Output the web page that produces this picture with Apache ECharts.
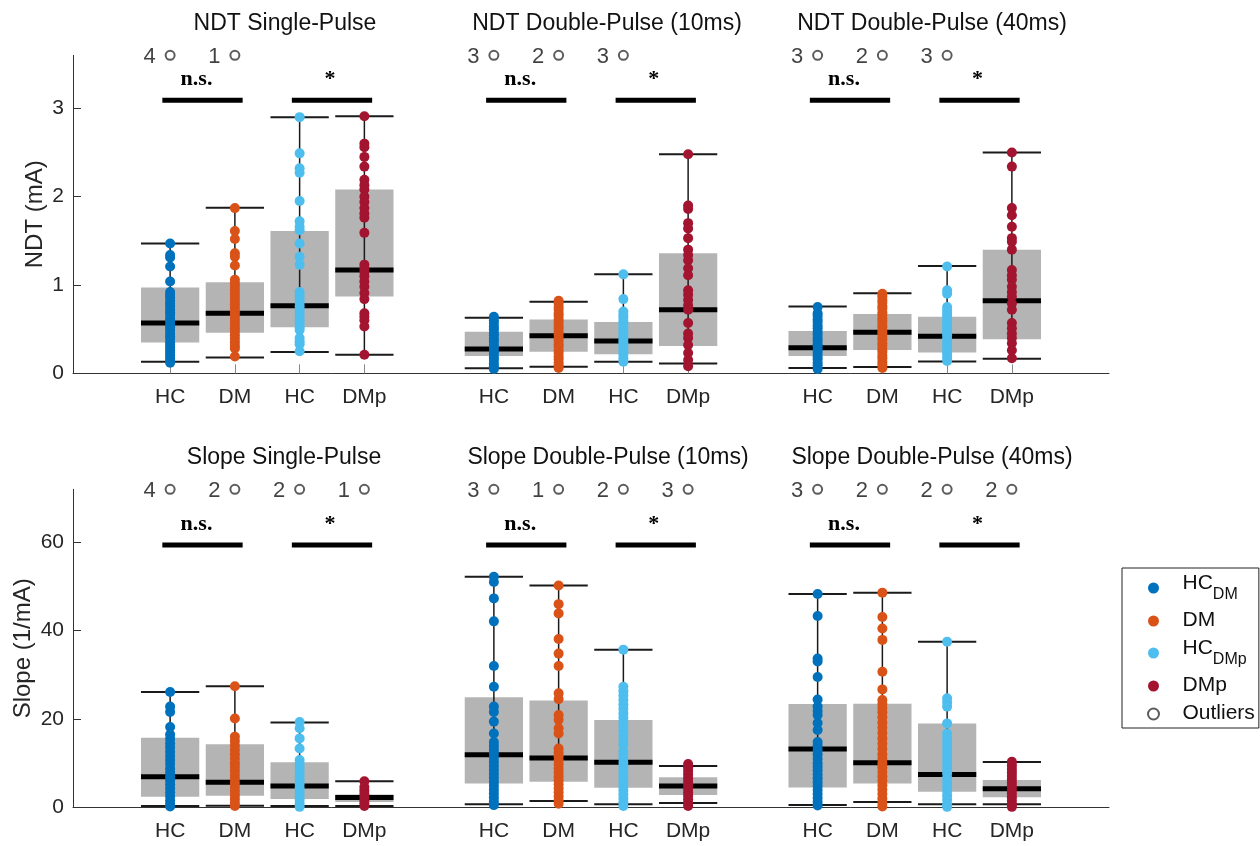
<!DOCTYPE html>
<html><head><meta charset="utf-8">
<script src="https://cdn.jsdelivr.net/npm/echarts@6/dist/echarts.min.js"></script>
<style>html,body{margin:0;padding:0;background:#fff}#c{width:1260px;height:846px}</style>
</head><body><div id="c"></div>
<script>
// ---------- DATA ----------
const xLabels = ['', 'HC', 'DM', 'HC', 'DMp', '', 'HC', 'DM', 'HC', 'DMp', '', 'HC', 'DM', 'HC', 'DMp', ''];
const groupSlots = [1, 2, 3, 4, 6, 7, 8, 9, 11, 12, 13, 14];
const seriesNames = ['HC_DM', 'DM', 'HC_DMp', 'DMp'];
const ndtTitles = ['NDT Single-Pulse', 'NDT Double-Pulse (10ms)', 'NDT Double-Pulse (40ms)'];
const slopeTitles = ['Slope Single-Pulse', 'Slope Double-Pulse (10ms)', 'Slope Double-Pulse (40ms)'];
const sigLabels = ['n.s.', '*'];
const ndtTicks = [0, 1, 2, 3];
const slopeTicks = [0, 20, 40, 60];
const ndtMax = 3.6;
const slopeMax = 72;
const ndtSigLevel = 3.09;
const slopeSigLevel = 59.4;

// outlier counts per group (null = none)
const ndtOutliers = [4, 1, null, null, 3, 2, 3, null, 3, 2, 3, null];
const slopeOutliers = [4, 2, 2, 1, 3, 1, 2, 3, 3, 2, 2, 2];

// box stats: [lower whisker, Q1, median, Q3, upper whisker]
const ndtBoxStats = [
  [0.13, 0.35, 0.57, 0.97, 1.47],
  [0.18, 0.46, 0.68, 1.03, 1.875],
  [0.24, 0.52, 0.765, 1.61, 2.90],
  [0.21, 0.87, 1.17, 2.08, 2.91],
  [0.057, 0.195, 0.275, 0.47, 0.63],
  [0.075, 0.245, 0.425, 0.61, 0.81],
  [0.13, 0.215, 0.365, 0.58, 1.12],
  [0.11, 0.31, 0.72, 1.36, 2.48],
  [0.06, 0.195, 0.29, 0.48, 0.755],
  [0.07, 0.265, 0.465, 0.67, 0.905],
  [0.135, 0.235, 0.42, 0.64, 1.215],
  [0.165, 0.385, 0.82, 1.40, 2.50]
];
const slopeBoxStats = [
  [0.3, 2.4, 6.9, 15.75, 26.1],
  [0.37, 2.6, 5.65, 14.25, 27.4],
  [0.3, 1.9, 4.8, 10.2, 19.2],
  [0.3, 1.2, 2.2, 2.9, 5.9],
  [0.7, 5.4, 11.9, 24.9, 52.2],
  [1.4, 5.8, 11.15, 24.2, 50.2],
  [0.7, 4.4, 10.2, 19.75, 35.7],
  [1.0, 2.8, 4.8, 6.8, 9.35],
  [0.5, 4.5, 13.2, 23.4, 48.3],
  [1.2, 5.4, 10.1, 23.45, 48.6],
  [0.7, 3.5, 7.4, 19.0, 37.5],
  [0.7, 2.3, 4.2, 6.2, 10.25]
];

// individual points (NDT, mA)
const ndtSingleHCdm = [1.47, 1.34, 1.31, 1.21, 1.04, 0.92, 0.89, 0.86, 0.82, 0.79, 0.76, 0.72, 0.69, 0.66, 0.62, 0.59, 0.55, 0.52, 0.49, 0.45, 0.42, 0.39, 0.35, 0.32, 0.29, 0.26, 0.23, 0.20, 0.17, 0.14, 0.12];
const ndtSingleDM = [1.87, 1.61, 1.52, 1.36, 1.32, 1.22, 1.06, 1.02, 0.98, 0.94, 0.90, 0.86, 0.82, 0.78, 0.74, 0.70, 0.67, 0.63, 0.59, 0.55, 0.51, 0.47, 0.43, 0.39, 0.35, 0.31, 0.28, 0.19];
const ndtSingleHCdmp = [2.90, 2.49, 2.32, 2.27, 1.95, 1.72, 1.66, 1.62, 1.47, 1.32, 1.23, 0.92, 0.88, 0.84, 0.80, 0.76, 0.72, 0.68, 0.64, 0.60, 0.56, 0.52, 0.49, 0.40, 0.36, 0.33, 0.25];
const ndtSingleDMp = [2.91, 2.60, 2.56, 2.45, 2.34, 2.19, 2.13, 2.08, 2.00, 1.94, 1.87, 1.81, 1.76, 1.59, 1.23, 1.19, 1.15, 1.10, 1.04, 0.98, 0.91, 0.84, 0.68, 0.64, 0.60, 0.53, 0.21];
const ndt10HCdm = [0.64, 0.60, 0.57, 0.53, 0.50, 0.46, 0.43, 0.39, 0.36, 0.32, 0.29, 0.25, 0.22, 0.18, 0.15, 0.11, 0.08, 0.05];
const ndt10DM = [0.82, 0.79, 0.75, 0.72, 0.68, 0.65, 0.61, 0.58, 0.54, 0.51, 0.47, 0.44, 0.40, 0.37, 0.33, 0.30, 0.26, 0.23, 0.19, 0.16, 0.12, 0.09, 0.06];
const ndt10HCdmp = [1.12, 0.84, 0.70, 0.66, 0.63, 0.59, 0.56, 0.52, 0.49, 0.45, 0.42, 0.38, 0.35, 0.31, 0.28, 0.24, 0.21, 0.17, 0.13];
const ndt10DMp = [2.48, 1.90, 1.86, 1.70, 1.64, 1.53, 1.40, 1.34, 1.28, 1.19, 1.11, 0.94, 0.89, 0.83, 0.77, 0.72, 0.57, 0.45, 0.40, 0.32, 0.23, 0.15, 0.08];
const ndt40HCdm = [0.75, 0.68, 0.65, 0.61, 0.58, 0.54, 0.51, 0.47, 0.44, 0.40, 0.37, 0.33, 0.30, 0.26, 0.23, 0.19, 0.16, 0.12, 0.09, 0.05];
const ndt40DM = [0.90, 0.87, 0.83, 0.80, 0.76, 0.73, 0.69, 0.66, 0.62, 0.59, 0.55, 0.52, 0.48, 0.45, 0.41, 0.38, 0.34, 0.31, 0.27, 0.24, 0.20, 0.17, 0.13, 0.10, 0.06];
const ndt40HCdmp = [1.21, 0.94, 0.90, 0.75, 0.71, 0.67, 0.64, 0.60, 0.57, 0.53, 0.50, 0.46, 0.43, 0.39, 0.36, 0.32, 0.29, 0.25, 0.22, 0.18, 0.14];
const ndt40DMp = [2.50, 2.34, 1.87, 1.79, 1.66, 1.53, 1.49, 1.40, 1.17, 1.11, 1.06, 0.98, 0.92, 0.87, 0.79, 0.72, 0.57, 0.51, 0.45, 0.40, 0.34, 0.26, 0.17];

// individual points (Slope, 1/mA)
const slopeSingleHCdm = [26.1, 22.8, 21.6, 18.2, 16.5, 15.5, 14.5, 13.6, 12.6, 11.6, 10.7, 9.8, 8.8, 7.9, 7.0, 6.1, 5.2, 4.3, 3.4, 2.5, 1.6, 0.8, 0.2];
const slopeSingleDM = [27.4, 20.1, 16.0, 15.0, 14.0, 13.0, 12.0, 11.0, 10.0, 9.1, 8.2, 7.3, 6.4, 5.5, 4.6, 3.7, 2.8, 1.9, 1.0, 0.3];
const slopeSingleHCdmp = [19.3, 17.9, 15.6, 13.3, 10.7, 9.8, 8.9, 8.0, 7.1, 6.2, 5.3, 4.4, 3.5, 2.6, 1.7, 0.8, 0.1];
const slopeSingleDMp = [5.9, 4.6, 3.8, 3.0, 2.3, 1.6, 0.9, 0.3];
const slope10HCdm = [52.2, 51.0, 47.3, 42.1, 32.0, 27.3, 22.8, 21.6, 19.4, 16.7, 14.8, 13.9, 13.0, 12.1, 11.2, 10.3, 9.4, 8.5, 7.6, 6.7, 5.8, 4.9, 4.0, 3.1, 2.2, 1.3, 0.5];
const slope10DM = [50.2, 46.0, 43.9, 38.1, 34.8, 32.0, 25.8, 24.5, 20.9, 19.8, 17.9, 16.7, 13.3, 12.4, 11.5, 10.6, 9.7, 8.8, 7.9, 7.0, 6.1, 5.2, 4.3, 3.4, 2.5, 1.6, 0.8];
const slope10HCdmp = [35.7, 27.3, 26.3, 25.3, 24.3, 23.3, 22.3, 21.3, 20.3, 19.3, 18.3, 17.3, 16.3, 15.3, 14.3, 12.8, 11.9, 11.0, 10.1, 9.2, 8.3, 7.4, 6.5, 5.6, 4.7, 3.8, 2.9, 2.0, 1.1, 0.3];
const slope10DMp = [9.8, 9.0, 8.2, 7.4, 6.6, 5.8, 5.0, 4.2, 3.4, 2.6, 1.8, 1.0, 0.3];
const slope40HCdm = [48.3, 43.3, 33.7, 33.0, 29.5, 24.4, 22.8, 21.8, 20.9, 19.1, 17.5, 14.8, 14.0, 13.0, 12.0, 11.0, 10.0, 9.2, 8.4, 7.5, 6.6, 5.7, 4.8, 3.9, 3.0, 2.1, 1.2, 0.4];
const slope40DM = [48.6, 43.1, 40.5, 37.9, 30.7, 26.7, 24.3, 23.4, 22.5, 21.5, 20.4, 19.2, 18.0, 16.8, 15.6, 14.4, 13.2, 12.0, 11.0, 10.0, 9.0, 8.0, 7.0, 6.0, 5.0, 4.0, 3.0, 2.0, 1.0, 0.2];
const slope40HCdmp = [37.5, 24.7, 23.8, 22.8, 19.0, 16.7, 15.7, 14.7, 13.7, 12.7, 11.7, 10.7, 9.7, 8.7, 7.7, 6.7, 5.7, 4.7, 3.7, 2.7, 1.7, 0.7, 0.1];
const slope40DMp = [10.3, 9.5, 8.7, 7.9, 7.1, 6.3, 5.5, 4.7, 3.9, 3.1, 2.3, 1.5, 0.7, 0.1];

const ndtPoints = [ndtSingleHCdm, ndtSingleDM, ndtSingleHCdmp, ndtSingleDMp, ndt10HCdm, ndt10DM, ndt10HCdmp, ndt10DMp, ndt40HCdm, ndt40DM, ndt40HCdmp, ndt40DMp];
const slopePoints = [slopeSingleHCdm, slopeSingleDM, slopeSingleHCdmp, slopeSingleDMp, slope10HCdm, slope10DM, slope10HCdmp, slope10DMp, slope40HCdm, slope40DM, slope40HCdmp, slope40DMp];

// ---------- STYLE ----------
const colors = ['#0072BD', '#D95319', '#4DBEEE', '#A2142F'];
const axisColor = '#333';
const FONT = '"Liberation Sans", Arial, sans-serif';

function renderBox(params, api) {
  const x = api.value(0);
  const lo = api.coord([x, api.value(1)]);
  const q1 = api.coord([x, api.value(2)]);
  const md = api.coord([x, api.value(3)]);
  const q3 = api.coord([x, api.value(4)]);
  const hi = api.coord([x, api.value(5)]);
  const bw = api.size([1, 0])[0] * 0.9;
  const cx = lo[0];
  return {
    type: 'group', children: [
      { type: 'rect', shape: { x: cx - bw / 2, y: q3[1], width: bw, height: q1[1] - q3[1] }, style: { fill: '#b4b4b4' } },
      { type: 'line', shape: { x1: cx, y1: lo[1], x2: cx, y2: hi[1] }, style: { stroke: '#1a1a1a', lineWidth: 1.5 } },
      { type: 'line', shape: { x1: cx - bw / 2, y1: lo[1], x2: cx + bw / 2, y2: lo[1] }, style: { stroke: '#1a1a1a', lineWidth: 2 } },
      { type: 'line', shape: { x1: cx - bw / 2, y1: hi[1], x2: cx + bw / 2, y2: hi[1] }, style: { stroke: '#1a1a1a', lineWidth: 2 } },
      { type: 'line', shape: { x1: cx - bw / 2, y1: md[1], x2: cx + bw / 2, y2: md[1] }, style: { stroke: '#000', lineWidth: 5 } }
    ]
  };
}

function renderSig(params, api) {
  const a = api.coord([api.value(0), api.value(2)]);
  const b = api.coord([api.value(1), api.value(2)]);
  const half = api.size([1, 0])[0] * 0.62;
  const cx = (a[0] + b[0]) / 2;
  const label = sigLabels[params.dataIndex % 2];
  const dx = label === '*' ? -2 : -6;
  return {
    type: 'group', children: [
      { type: 'line', shape: { x1: cx - half, y1: a[1], x2: cx + half, y2: a[1] }, style: { stroke: '#000', lineWidth: 5 } },
      { type: 'text', x: cx + dx, y: a[1] - 21, style: { text: label, align: 'center', verticalAlign: 'middle', font: 'bold 22px "Liberation Serif", "Times New Roman", serif', fill: '#000' } }
    ]
  };
}

function rowSeries(gi, points, boxes, outliers, sigLevel, yMax) {
  const out = [];
  out.push({
    type: 'custom', xAxisIndex: gi, yAxisIndex: gi, z: 2, silent: true, clip: false,
    renderItem: renderBox, encode: { x: 0, y: [1, 2, 3, 4, 5] },
    data: boxes.map((b, i) => [groupSlots[i], ...b])
  });
  for (let k = 0; k < 4; k++) {
    const data = [];
    for (let p = 0; p < 3; p++) {
      const g = p * 4 + k;
      points[g].forEach(v => data.push([groupSlots[g], v]));
    }
    out.push({
      type: 'scatter', name: seriesNames[k], xAxisIndex: gi, yAxisIndex: gi, z: 3, silent: true,
      symbol: 'circle', symbolSize: 10, itemStyle: { color: colors[k], opacity: 1 }, data
    });
  }
  const sigData = [];
  for (let p = 0; p < 3; p++) {
    sigData.push([groupSlots[p * 4], groupSlots[p * 4 + 1], sigLevel]);
    sigData.push([groupSlots[p * 4 + 2], groupSlots[p * 4 + 3], sigLevel]);
  }
  out.push({
    type: 'custom', xAxisIndex: gi, yAxisIndex: gi, z: 4, silent: true, clip: false,
    renderItem: renderSig, encode: { x: [0, 1], y: 2 }, data: sigData
  });
  const oData = [];
  outliers.forEach((c, i) => { if (c !== null) oData.push([groupSlots[i], yMax, c]); });
  out.push({
    type: 'scatter', name: 'Outliers', xAxisIndex: gi, yAxisIndex: gi, z: 4, silent: true, clip: false,
    symbol: 'emptyCircle', symbolSize: 9, itemStyle: { color: '#333', borderWidth: 1 },
    label: { show: true, position: 'left', distance: 9, formatter: p => String(p.value[2]), fontSize: 22, fontFamily: FONT, color: '#111', offset: [0, 2] },
    data: oData
  });
  return out;
}

function xAxisDef(gi) {
  return {
    type: 'category', gridIndex: gi, data: xLabels, boundaryGap: true,
    axisLine: { lineStyle: { color: axisColor, width: 1 } },
    axisTick: { show: true, inside: true, length: 9, alignWithLabel: true, interval: (i) => xLabels[i] !== '', lineStyle: { color: '#888' } },
    axisLabel: { interval: 0, margin: 13, fontSize: 21, fontFamily: FONT, color: '#262626' },
    splitLine: { show: false }
  };
}
function yAxisDef(gi, max, ticks, name, gap) {
  return {
    type: 'value', gridIndex: gi, min: 0, max: max, name: name, nameLocation: 'middle', nameGap: gap,
    nameMoveOverlap: false,
    nameTextStyle: { fontSize: 24, fontFamily: FONT, color: '#262626' },
    axisLine: { show: true, lineStyle: { color: axisColor, width: 1 } },
    axisTick: { show: true, inside: true, length: 8, customValues: ticks, lineStyle: { color: axisColor } },
    axisLabel: { customValues: ticks, margin: 9, fontSize: 21, fontFamily: FONT, color: '#262626' },
    splitLine: { show: false }
  };
}

const titleCentersTop = [285, 607, 932];
const titleCentersBottom = [284, 608, 932];
const titles = [];
ndtTitles.forEach((t, i) => titles.push({ text: t, left: titleCentersTop[i], top: 12, textAlign: 'center', padding: 0, textStyle: { fontSize: 23, fontWeight: 'normal', fontFamily: FONT, color: '#111' } }));
slopeTitles.forEach((t, i) => titles.push({ text: t, left: titleCentersBottom[i], top: 446, textAlign: 'center', padding: 0, textStyle: { fontSize: 23, fontWeight: 'normal', fontFamily: FONT, color: '#111' } }));

const legendText = { HC_DM: '{b|HC}{s|DM}{sp| }', DM: '{b|DM}', HC_DMp: '{b|HC}{s|DMp}{sp| }', DMp: '{b|DMp}', Outliers: '{b|Outliers}' };

const option = {
  animation: false,
  backgroundColor: '#fff',
  title: titles,
  grid: [
    { left: 73, right: 151, top: 55.3, height: 318, outerBoundsMode: 'none', containLabel: false },
    { left: 73, right: 151, top: 489.3, height: 318, outerBoundsMode: 'none', containLabel: false }
  ],
  xAxis: [xAxisDef(0), xAxisDef(1)],
  yAxis: [yAxisDef(0, ndtMax, ndtTicks, 'NDT (mA)', 26), yAxisDef(1, slopeMax, slopeTicks, 'Slope (1/mA)', 38)],
  legend: {
    orient: 'vertical', left: 1122, top: 568, selectedMode: false,
    data: ['HC_DM', 'DM', 'HC_DMp', 'DMp', { name: 'Outliers', itemStyle: { color: '#333' } }],
    itemWidth: 48, itemHeight: 11, itemGap: 7,
    padding: [5, 4, 4, 25],
    borderColor: '#222', borderWidth: 1, backgroundColor: '#fff',
    formatter: n => legendText[n],
    textStyle: {
      fontSize: 21, fontFamily: FONT, color: '#111',
      rich: {
        b: { fontSize: 21, fontFamily: FONT, lineHeight: 22, verticalAlign: 'top', color: '#111' },
        s: { fontSize: 16, fontFamily: FONT, lineHeight: 16, verticalAlign: 'bottom', color: '#111' },
        sp: { fontSize: 4, lineHeight: 30, verticalAlign: 'bottom' }
      }
    }
  },
  series: [
    ...rowSeries(0, ndtPoints, ndtBoxStats, ndtOutliers, ndtSigLevel, ndtMax),
    ...rowSeries(1, slopePoints, slopeBoxStats, slopeOutliers, slopeSigLevel, slopeMax)
  ]
};

const chart = echarts.init(document.getElementById('c'), null, { renderer: 'canvas' });
chart.setOption(option);
</script>
</body></html>
